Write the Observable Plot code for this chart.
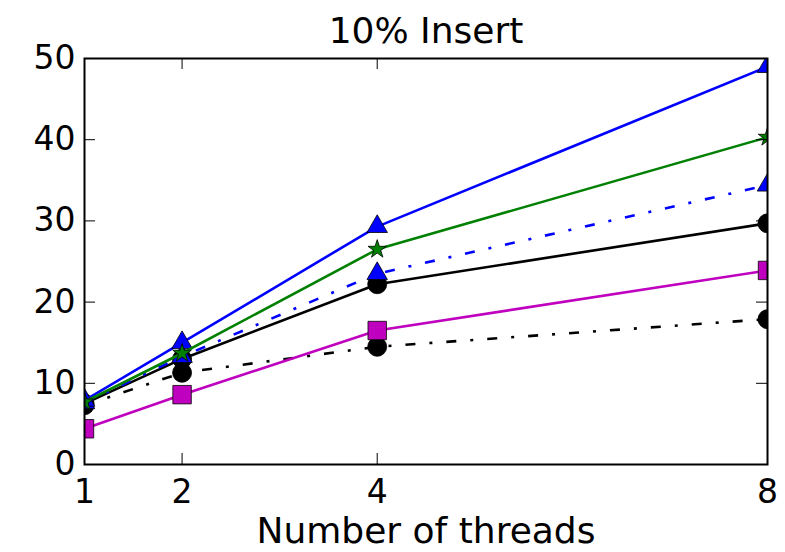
<!DOCTYPE html>
<html>
<head>
<meta charset="utf-8">
<script src="https://cdn.jsdelivr.net/npm/d3@7"></script>
<script src="https://cdn.jsdelivr.net/npm/@observablehq/plot@0.6"></script>
<style>
  html, body { margin: 0; padding: 0; background: #fff; }
  svg { display: block; }
</style>
</head>
<body>
<div id="chart"></div>
<script>
const threads = [1, 2, 4, 8];
const blueSolid  = [7.9, 15.0, 29.3, 49.0];
const greenStar  = [7.7, 13.7, 26.5, 40.3];
const blueDash   = [7.6, 13.3, 23.5, 34.4];
const blackSolid = [7.5, 13.0, 22.2, 29.7];
const magentaSq  = [4.4, 8.6, 16.5, 23.9];
const blackDash  = [7.3, 11.3, 14.5, 17.9];
const xTicks = [1, 2, 4, 8];
const yTicks = [0, 10, 20, 30, 40, 50];
const title = "10% Insert";
const xLabel = "Number of threads";

const series = [
  {values: blackDash,  stroke: "#000000", dash: "10,14,3,14", symbol: "circle",   r: 9.5},
  {values: blackSolid, stroke: "#000000", dash: null,          symbol: "circle",   r: 9.5},
  {values: blueDash,   stroke: "#0000ff", dash: "10,14,3,14", symbol: "triangle", r: 7.6},
  {values: magentaSq,  stroke: "#bf00bf", dash: null,          symbol: "square",   r: 10.4},
  {values: blueSolid,  stroke: "#0000ff", dash: null,          symbol: "triangle", r: 7.6},
  {values: greenStar,  stroke: "#008000", dash: null,          symbol: "star",     r: 5.8}
];

const W = 785, H = 552;
const mL = 84, mR = 18, mT = 58, mB = 88;
const fw = W - mL - mR, fh = H - mT - mB;
const tick = 11;

const marks = [];
for (const s of series) {
  const rows = threads.map((t, i) => ({x: t, y: s.values[i]}));
  marks.push(Plot.line(rows, {x: "x", y: "y", stroke: s.stroke, strokeWidth: 2.6,
    strokeDasharray: s.dash, strokeLinecap: "butt", clip: true}));
  marks.push(Plot.dot(rows, {x: "x", y: "y", symbol: s.symbol, r: s.r, fill: s.stroke,
    stroke: "#000", strokeWidth: 0.8, clip: true}));
}

const chart = Plot.plot({
  width: W, height: H,
  marginLeft: mL, marginRight: mR, marginTop: mT, marginBottom: mB,
  style: {fontFamily: "DejaVu Sans", background: "#fff", color: "#000"},
  x: {domain: [1, 8], type: "linear"},
  y: {domain: [0, 50]},
  marks: [
    ...marks,
    // inward ticks on all four sides
    Plot.tickX(xTicks, {x: d => d, insetTop: fh - tick, stroke: "#000", strokeWidth: 1}),
    Plot.tickX(xTicks, {x: d => d, insetBottom: fh - tick, stroke: "#000", strokeWidth: 1}),
    Plot.tickY(yTicks, {y: d => d, insetRight: fw - tick, stroke: "#000", strokeWidth: 1}),
    Plot.tickY(yTicks, {y: d => d, insetLeft: fw - tick, stroke: "#000", strokeWidth: 1}),
    Plot.frame({stroke: "#000", strokeWidth: 2}),
    Plot.axisX({ticks: xTicks, tickSize: 0, tickPadding: 15, fontSize: 33, label: null, tickFormat: d => String(d)}),
    Plot.axisY({ticks: yTicks, tickSize: 0, tickPadding: 9, fontSize: 33, label: null, tickFormat: d => String(d)}),
    Plot.text([title], {frameAnchor: "top", lineAnchor: "top", dy: -41, fontSize: 36, fill: "#000"}),
    Plot.text([xLabel], {frameAnchor: "bottom", lineAnchor: "top", dy: 53, fontSize: 36, fill: "#000"})
  ]
});
document.getElementById("chart").appendChild(chart);
</script>
</body>
</html>
